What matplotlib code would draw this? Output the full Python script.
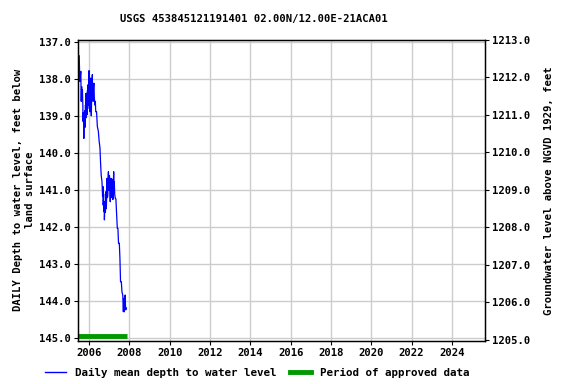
import matplotlib
matplotlib.use("Agg")
import matplotlib.pyplot as plt
from matplotlib.lines import Line2D

# Data (decimal year, depth below land surface in feet)
years = [2005.51, 2005.52, 2005.54, 2005.56, 2005.59, 2005.60, 2005.61, 2005.63, 2005.65,
         2005.67, 2005.69, 2005.70, 2005.72, 2005.74, 2005.75, 2005.77, 2005.79, 2005.80,
         2005.82, 2005.84, 2005.85, 2005.87, 2005.89, 2005.90, 2005.92, 2005.93, 2005.95,
         2005.97, 2005.98, 2006.00, 2006.02, 2006.03, 2006.05, 2006.06, 2006.08, 2006.10,
         2006.11, 2006.13, 2006.15, 2006.16, 2006.18, 2006.20, 2006.22, 2006.24, 2006.26,
         2006.29, 2006.31, 2006.33, 2006.37, 2006.41, 2006.46, 2006.50, 2006.54,
         2006.57, 2006.60, 2006.64, 2006.67, 2006.69, 2006.70, 2006.72, 2006.73, 2006.75,
         2006.76, 2006.78, 2006.80, 2006.81, 2006.83, 2006.85, 2006.86, 2006.88, 2006.89,
         2006.91, 2006.93, 2006.94, 2006.96, 2006.97, 2006.99, 2007.01, 2007.02, 2007.04,
         2007.05, 2007.07, 2007.09, 2007.11, 2007.13, 2007.14, 2007.16, 2007.18, 2007.19,
         2007.21, 2007.22, 2007.24, 2007.25, 2007.27, 2007.30, 2007.33, 2007.36, 2007.40,
         2007.43, 2007.46, 2007.50, 2007.53, 2007.56, 2007.60, 2007.63, 2007.67, 2007.70,
         2007.72, 2007.74, 2007.75, 2007.77, 2007.79, 2007.81, 2007.82, 2007.85]
depth = [137.37, 137.60, 138.06, 137.95, 137.79, 138.24, 138.60, 138.20, 138.55,
         138.29, 138.70, 139.14, 138.90, 139.60, 139.20, 139.24, 138.85, 139.30,
         138.70, 139.05, 138.38, 138.96, 138.50, 138.96, 138.30, 138.80, 138.15,
         138.70, 138.30, 137.77, 138.60, 138.20, 138.88, 138.30, 137.97, 138.70,
         138.99, 138.40, 138.10, 137.88, 138.50, 138.60, 138.20, 138.11, 138.50,
         138.70, 138.60, 138.88, 138.88, 139.28, 139.41, 139.68, 139.86,
         140.27, 140.59, 140.77, 141.17, 140.90, 141.40, 141.10, 141.58, 141.30,
         141.80, 141.40, 141.31, 141.60, 141.04, 141.50, 141.40, 140.90, 140.68,
         141.20, 141.13, 140.70, 140.50, 141.00, 140.95, 140.60, 140.68, 141.10,
         141.31, 140.80, 140.68, 141.20, 141.04, 140.70, 140.77, 141.25, 141.13,
         140.70, 140.50, 141.00, 140.77, 141.10, 141.22, 141.23, 141.58, 142.03,
         142.03, 142.43, 142.43, 142.84, 143.47, 143.47, 143.74, 143.83, 144.28,
         143.92, 144.25, 144.28, 143.90, 143.83, 144.20, 144.23, 144.18]

approved_start = 2005.45
approved_end = 2007.9

xticks = list(range(2006, 2026, 2))
left_ticks = [137.0, 138.0, 139.0, 140.0, 141.0, 142.0, 143.0, 144.0, 145.0]
right_ticks = [1205.0, 1206.0, 1207.0, 1208.0, 1209.0, 1210.0, 1211.0, 1212.0, 1213.0]

FONT = "DejaVu Sans Mono"
FS = 7.6
plt.rcParams['font.family'] = [FONT]
plt.rcParams['font.weight'] = 'bold'

fig = plt.figure(figsize=(5.76, 3.84), dpi=100)
ax = fig.add_axes([78/576, 1-341/384, (485-78)/576, (341-39.5)/384])

ax.plot(years, depth, color='#0000ff', lw=0.9)
ax.plot([approved_start, approved_end], [144.93, 144.93], color='#009900', lw=3.5,
        solid_capstyle='butt', clip_on=False)

ax.set_xlim(2005.45, 2025.64)
ax.set_ylim(145.07, 136.93)
ax.set_xticks(xticks)
ax.set_xticklabels([str(t) for t in xticks], fontsize=FS, fontweight='bold')
ax.set_yticks(left_ticks)
ax.set_yticklabels([f"{t:.1f}" for t in left_ticks], fontsize=FS, fontweight='bold')
ax.grid(True, color='#cccccc', lw=1)
ax.set_axisbelow(True)
ax.tick_params(length=3, width=0.8, pad=2)
for s in ax.spines.values():
    s.set_linewidth(1)
ax.set_ylabel("DAILY Depth to water level, feet below\nland surface", fontsize=FS,
              fontweight='bold', labelpad=3)

ax2 = ax.twinx()
ax2.set_ylim(1204.97, 1213.01)
ax2.set_yticks(right_ticks)
ax2.set_yticklabels([f"{t:.1f}" for t in right_ticks], fontsize=FS, fontweight='bold')
ax2.tick_params(length=3, width=0.8, pad=2)
ax2.set_ylabel("Groundwater level above NGVD 1929, feet", fontsize=FS, fontweight='bold',
               labelpad=10)

fig.text(254/576, 1-19/384, "USGS 453845121191401 02.00N/12.00E-21ACA01", ha='center',
         va='center', fontsize=FS, fontweight='bold')

handles = [Line2D([], [], color='#0000ff', lw=1),
           Line2D([], [], color='#009900', lw=3.5)]
fig.legend(handles, ["Daily mean depth to water level", "Period of approved data"],
           loc='center', bbox_to_anchor=(257/576, 1-373/384), ncol=2, frameon=False,
           handlelength=2.0, handletextpad=0.8, columnspacing=1.2,
           prop={'family': FONT, 'weight': 'bold', 'size': 7.8})

fig.savefig("out.png", dpi=100)
